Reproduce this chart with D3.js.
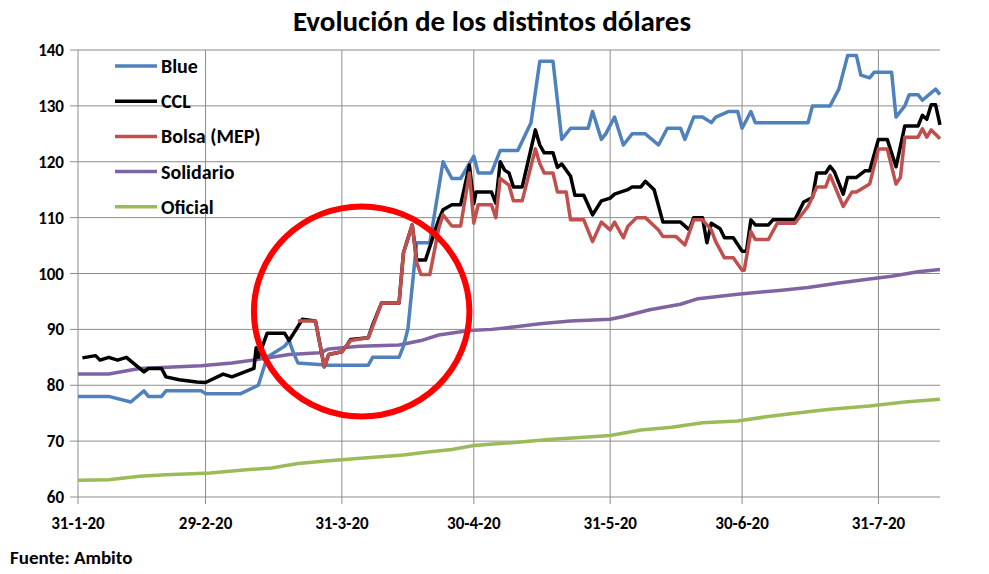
<!DOCTYPE html>
<html>
<head>
<meta charset="utf-8">
<script src="https://cdn.jsdelivr.net/npm/d3@7"></script>
<style>
  body { margin: 0; background: #fff; }
  text { font-family: Calibri, Carlito, "Open Sans", sans-serif; font-weight: bold; }
</style>
</head>
<body>
<div id="chart"></div>
<script>
// days counted from 31-1-20
var tickDays = [0, 29, 60, 90, 121, 151, 182];
var tickLabels = ["31-1-20", "29-2-20", "31-3-20", "30-4-20", "31-5-20", "30-6-20", "31-7-20"];

var blue = [[0,78],[7,78],[12,77],[15,79],[16,78],[19,78],[20,79],[28,79],[29,78.5],[37,78.5],[41,80],[43,85],[47,87],[48,88],[49,85.8],[50,84],[57,83.6],[66,83.6],[67,85],[73,85],[74,87],[75,90],[77,105.5],[80,105.5],[83,120],[85,117],[87,117],[90,121],[91,118],[94,118],[96,122],[100,122],[103,127],[105,138],[108,138],[110,124],[112,126],[116,126],[117,129],[119,124],[120,125],[122,128],[124,123],[126,125],[129,125],[132,123],[134,126],[137,126],[138,124],[140,128],[142,128],[144,127],[145,128],[148,129],[150,129],[151,126],[153,129],[154,127],[166,127],[167,130],[171,130],[173,133],[175,139],[177,139],[178,135.5],[180,135],[181,136],[185,136],[186,128],[188,130],[189,132],[191,132],[192,131],[195,133],[196,132]];

var ccl = [[1,84.9],[4,85.3],[5,84.5],[7,85],[9,84.5],[11,85],[15,82.4],[16,83],[19,83],[20,81.5],[23,81],[27,80.6],[29,80.5],[33,82],[35,81.5],[40,83],[40.5,86.7],[41,85],[43,89.3],[47,89.3],[48,88],[50,90.5],[51,91.8],[54,91.5],[56,83.3],[57,85.5],[60,86],[61,87],[62,88.2],[66,88.5],[67,90.8],[69,94.7],[73,94.7],[74,103.7],[76,108.7],[77,102.4],[79,102.4],[82,109.6],[83,111.4],[85,112.3],[87,112.3],[89,119.4],[90,112.5],[90.5,114.6],[94,114.6],[95,112.6],[96,120],[97,118.5],[98,118],[99,115.5],[101,115.5],[104,125.7],[105,123],[106,121.6],[108,121.6],[109,119],[110,119.6],[112,117.4],[113,114],[115,114],[117,110.5],[119,113],[121,113.5],[122,114.2],[125,115],[126,115.5],[128,115.5],[129,116.5],[131,115],[133,109.2],[137,109.2],[139,107.8],[140,110],[142,110],[143,105.5],[144,109],[146,108],[147,106.4],[149,106.4],[151,104],[152,104],[153,109.6],[154,108.7],[157,108.7],[158,109.6],[163,109.6],[165,112.8],[167,113.6],[168,118],[170,118],[171,119.2],[172,118.2],[174,114.2],[175,117.2],[177,117.2],[179,118.4],[180,118.4],[182,124],[184,124],[186,119.1],[188,126.4],[191,126.4],[192,128.3],[193,127.6],[194,130.2],[195,130.2],[196,126.6]];

var mep = [[50,91.5],[54,91.5],[56,83.3],[57,85.5],[60,86],[61,87],[62,88],[66,88.5],[67,90.5],[69,94.7],[73,94.7],[74,103.7],[76,108.7],[77,102],[78,99.8],[80,99.8],[82,108],[83,110.5],[85,108.5],[87,108.5],[89,118],[90,109],[91,112.3],[94,112.3],[95,110],[96,117],[98,115.8],[99,113],[101,113],[104,122.3],[105,119.7],[106,118],[108,118],[109,114.6],[111,114.6],[112,109.6],[115,109.6],[117,105.7],[119,109.2],[121,107.8],[122,109.2],[124,106.4],[125,108.4],[127,110],[129,110],[132,107.8],[133,106.6],[136,106.6],[138,105.1],[140,109.6],[142,109.6],[144,107.8],[145,105.7],[147,102.8],[149,102.8],[151,100.6],[151.5,100.6],[153,107.5],[154,106.1],[157,106.1],[159,109],[163,109],[166,112],[168,115.5],[170,115.5],[171,117.6],[174,112],[176,114.6],[177,114.6],[180,116],[182,122.3],[184,122.3],[186,116],[187,117.2],[188,124.4],[191,124.4],[192,125.9],[193,124.4],[194,125.7],[196,124.1]];

var solidario = [[0,82],[7,82],[14,83],[28,83.5],[35,84],[40,84.5],[48,85.5],[55,85.8],[57,86.5],[64,87],[73,87.2],[78,88],[82,89],[89,89.8],[94,90],[100,90.5],[105,91],[112,91.5],[121,91.8],[124,92.3],[130,93.5],[137,94.5],[141,95.5],[150,96.3],[160,97],[166,97.5],[173,98.3],[180,99],[185,99.5],[191,100.3],[196,100.7]];

var oficial = [[0,63],[7,63.1],[14,63.7],[20,64],[30,64.3],[37,64.8],[44,65.2],[50,66],[57,66.5],[65,67],[74,67.5],[79,68],[85,68.5],[90,69.2],[100,69.8],[107,70.3],[115,70.7],[121,71],[128,72],[135,72.5],[142,73.3],[150,73.6],[156,74.3],[163,75],[171,75.7],[180,76.3],[188,77],[196,77.5]];

var series = [
  {name: "Blue", data: blue, color: "#4f81bd"},
  {name: "CCL", data: ccl, color: "#000000"},
  {name: "Bolsa (MEP)", data: mep, color: "#c0504d"},
  {name: "Solidario", data: solidario, color: "#8064a2"},
  {name: "Oficial", data: oficial, color: "#9bbb59"}
];
var drawOrder = ["Oficial", "Solidario", "Blue", "CCL", "Bolsa (MEP)"];

var W = 989, H = 574;
var svg = d3.select("#chart").append("svg").attr("width", W).attr("height", H);

var x = d3.scaleLinear().domain([0, 196]).range([78, 940]);
var y = d3.scaleLinear().domain([60, 140]).range([497, 50]);

// grid
svg.append("g").selectAll("line").data(d3.range(60, 141, 10)).enter().append("line")
  .attr("x1", 70).attr("x2", 940)
  .attr("y1", function(d) { return y(d); }).attr("y2", function(d) { return y(d); })
  .attr("stroke", "#8c8c8c").attr("stroke-width", 1);
svg.append("g").selectAll("line").data(tickDays).enter().append("line")
  .attr("x1", function(d) { return x(d); }).attr("x2", function(d) { return x(d); })
  .attr("y1", 50).attr("y2", 504)
  .attr("stroke", "#8c8c8c").attr("stroke-width", 1);

// axis labels
svg.append("g").selectAll("text").data(d3.range(60, 141, 10)).enter().append("text")
  .attr("x", 64).attr("y", function(d) { return y(d) + 6; })
  .attr("text-anchor", "end").attr("font-size", 17).text(function(d) { return d; });
svg.append("g").selectAll("text").data(tickDays).enter().append("text")
  .attr("x", function(d) { return x(d); }).attr("y", 529)
  .attr("text-anchor", "middle").attr("font-size", 17)
  .text(function(d, i) { return tickLabels[i]; });

var line = d3.line().x(function(d) { return x(d[0]); }).y(function(d) { return y(d[1]); });

drawOrder.forEach(function(n) {
  var s = series.find(function(s) { return s.name == n; });
  svg.append("path").datum(s.data)
    .attr("d", line).attr("fill", "none")
    .attr("stroke", s.color).attr("stroke-width", 3.5)
    .attr("stroke-linejoin", "round");
});

// red circle highlight
svg.append("ellipse")
  .attr("cx", x(64.5)).attr("cy", y(93.2))
  .attr("rx", x(64.5) - x(40)).attr("ry", y(93.2) - y(112))
  .attr("fill", "none").attr("stroke", "#ff0000").attr("stroke-width", 6);

// legend
var leg = svg.append("g");
series.forEach(function(s, i) {
  var yy = 66 + i * 35.2;
  leg.append("line").attr("x1", 115).attr("x2", 157).attr("y1", yy).attr("y2", yy)
    .attr("stroke", s.color).attr("stroke-width", 3.5);
  leg.append("text").attr("x", 161).attr("y", yy + 7).attr("font-size", 20).text(s.name);
});

svg.append("text").attr("x", 492).attr("y", 31).attr("text-anchor", "middle")
  .attr("font-size", 29).text("Evolución de los distintos dólares");
svg.append("text").attr("x", 10).attr("y", 564).attr("font-size", 19).text("Fuente: Ambito");
</script>
</body>
</html>
